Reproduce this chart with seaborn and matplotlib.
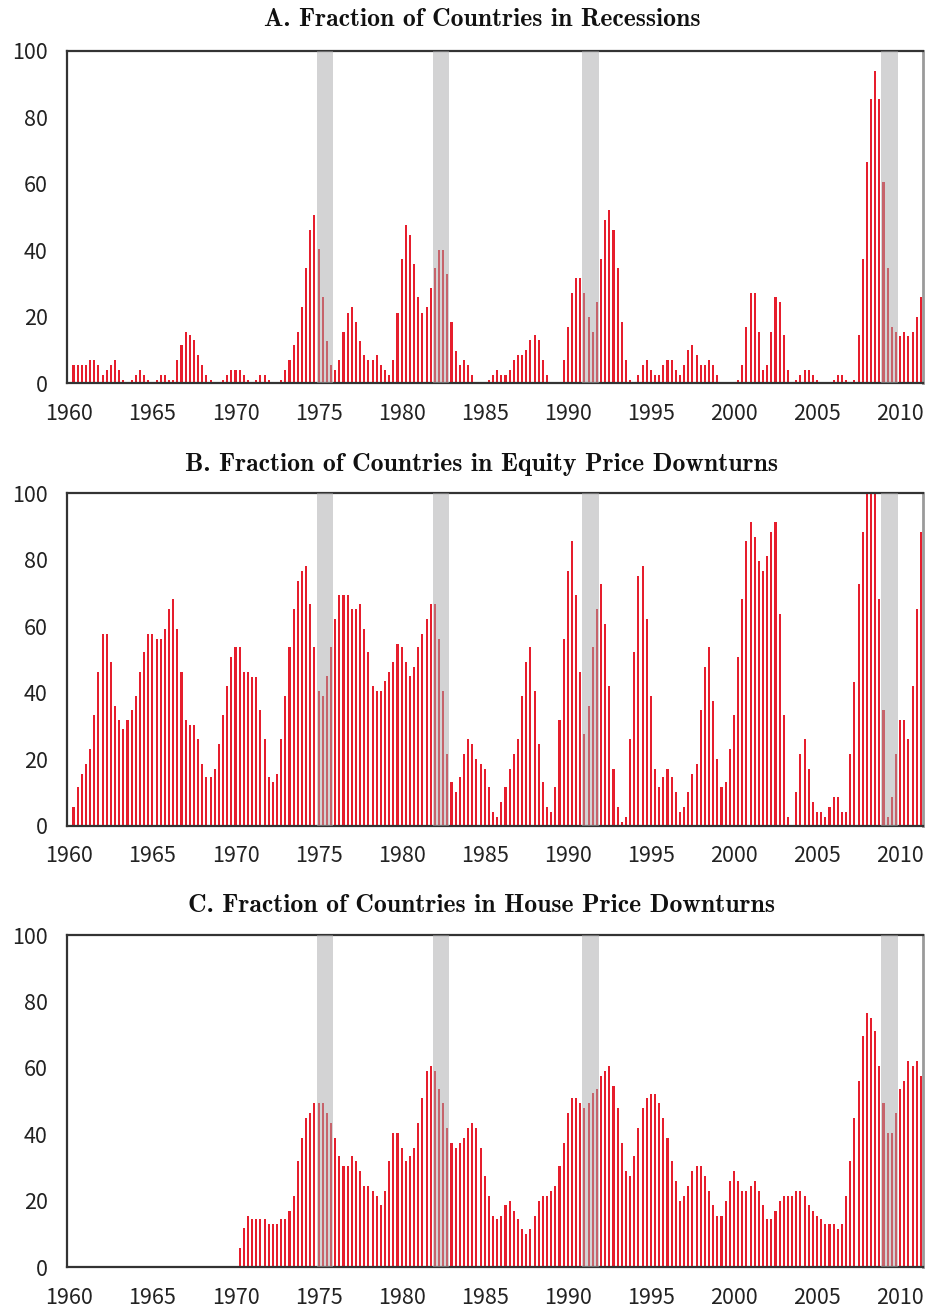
import matplotlib
matplotlib.use("Agg")
import matplotlib.pyplot as plt
import numpy as np
import pandas as pd
import seaborn as sns

# Quarterly shares of countries (%), 1960Q2 - 2011Q2; 1960Q1 is an empty slot on the axis
recessions = [
    5.5, 5.5, 5.5, 5.5, 7, 7, 5.5, 2.5, 4, 5.5,
    7, 4, 1, 0, 1, 2.5, 4, 2.5, 1, 0,
    1, 2.5, 2.5, 1, 1, 7, 11.5, 15.3, 14.5, 13,
    8.5, 5.5, 2.5, 1, 0, 0, 1, 2.5, 4, 4,
    4, 2.5, 1, 0, 1, 2.5, 2.5, 1, 0, 0,
    1, 4, 7, 11.5, 15.3, 22.8, 34.6, 46, 50.5, 40.3,
    25.8, 12.8, 5.5, 4, 7, 15.3, 21.2, 22.8, 18.3, 12.8,
    8.5, 7, 7, 8.5, 5.5, 4, 2.5, 7, 21.2, 37.3,
    47.6, 44.6, 35.8, 25.8, 21.2, 22.8, 28.8, 34.6, 40, 40,
    33, 18.3, 9.8, 5.5, 7, 5.5, 2.5, 0, 0, 0,
    1, 2.5, 4, 2.5, 2.5, 4, 7, 8.5, 8.5, 10,
    13, 14.5, 13, 7, 2.5, 0, 0, 0, 7, 17,
    27.3, 31.8, 31.8, 27.3, 20, 15.5, 24.5, 37.3, 49, 52,
    46, 34.6, 18.3, 7, 1, 0, 2.5, 5.5, 7, 4,
    2.5, 2.5, 5.5, 7, 7, 4, 2.5, 5.5, 10, 11.5,
    8.5, 5.5, 5.5, 7, 5.5, 2.5, 0, 0, 0, 0,
    1, 5.5, 17, 27.3, 27.3, 15.3, 4, 5.5, 15.3, 25.8,
    24.3, 14.5, 4, 0, 1, 2.5, 4, 4, 2.5, 1,
    0, 0, 0, 1, 2.5, 2.5, 1, 0, 1, 14.5,
    37.3, 66.6, 85.5, 93.9, 85.5, 60.6, 34.6, 17, 15.3, 14.3,
    15.3, 14.3, 15.3, 19.8, 25.8,
]

equity_downturns = [
    5.5, 11.6, 15.6, 18.6, 23.1, 33.4, 46.2, 57.8, 57.8, 49.2,
    35.9, 31.9, 29, 31.9, 34.9, 38.9, 46.2, 52.3, 57.8, 57.8,
    56.3, 56.3, 59.3, 65.2, 68.2, 59.3, 46.2, 31.9, 30.4, 30.4,
    26, 18.6, 14.6, 14.6, 17.1, 24.6, 33.4, 41.9, 50.8, 53.8,
    53.8, 46.2, 46.2, 44.7, 44.7, 34.9, 26, 14.6, 13.1, 15.6,
    26, 38.9, 53.8, 65.2, 73.6, 76.6, 78.1, 66.7, 53.8, 40.4,
    39.1, 44.9, 53.8, 62.2, 69.5, 69.5, 69.5, 65.2, 65.2, 66.7,
    59.3, 52.3, 41.9, 40.4, 40.4, 43.4, 46.2, 49.2, 54.8, 53.8,
    49.2, 44.9, 47.7, 53.8, 57.8, 62.2, 66.7, 66.7, 56.3, 40.4,
    21.6, 13.1, 10, 14.6, 21.6, 26, 24.6, 20.1, 18.6, 17.1,
    11.6, 4, 2.5, 7, 11.6, 17.1, 21.6, 26, 38.9, 49.2,
    53.8, 40.4, 24.6, 13.1, 5.5, 4, 11.6, 31.9, 56.3, 76.6,
    85.6, 69.5, 46.2, 27.6, 36.1, 53.8, 65.2, 72.6, 60.8, 41.9,
    17.1, 5.5, 1.2, 2.5, 26, 52.3, 75.1, 78.1, 62.2, 38.9,
    17.1, 11.6, 14.6, 17.1, 14.6, 10, 4, 5.5, 10, 15.6,
    18.6, 34.9, 47.7, 53.8, 37.4, 20.1, 11.6, 13.1, 23.1, 33.4,
    50.8, 68.2, 85.6, 91.5, 86.9, 79.6, 76.6, 81.1, 88.4, 91.5,
    63.7, 33.4, 2.5, 0, 10, 21.6, 26, 17.1, 7, 4,
    4, 2.5, 5.5, 8.5, 8.5, 4, 4, 21.6, 43.2, 72.6,
    88.4, 100, 100, 100, 68.2, 34.9, 2.5, 8.5, 21.6, 31.9,
    31.9, 26, 41.9, 65.2, 88.4,
]

house_downturns = [0] * 40 + [
    5.7, 11.7, 15.5, 14.5, 14.5, 14.5, 14.5, 13, 13, 13,
    14.5, 14.5, 17, 21.6, 32, 38.8, 44.8, 46.3, 49.3, 49.3,
    49.3, 46.3, 43.3, 38.8, 33.5, 30.5, 30.5, 33.5, 32, 29,
    24.6, 24.6, 23.1, 21.6, 18.6, 23.1, 32, 40.3, 40.3, 35.8,
    32, 33.5, 35.8, 43.3, 50.9, 59.2, 60.7, 59.2, 53.7, 49.3,
    41.8, 37.3, 35.8, 37.3, 38.8, 41.8, 43.3, 41.8, 35.8, 27.5,
    21.6, 15.5, 14.5, 15.5, 18.6, 20.1, 17, 14.5, 11.5, 10,
    11.5, 15.5, 20.1, 21.6, 21.6, 23.1, 24.6, 30.5, 37.3, 46.3,
    50.9, 50.9, 49.3, 47.8, 49.3, 52.4, 53.7, 57.7, 59.2, 60.7,
    54.7, 47.8, 37.3, 29, 27.5, 33.5, 41.8, 47.8, 50.9, 52.2,
    52.2, 49.3, 44.8, 38.8, 32, 26, 20.1, 21.6, 24.6, 29,
    30.5, 30.5, 27.5, 23.1, 18.6, 15.5, 15.5, 20.1, 26, 29,
    26, 23.1, 23.1, 24.6, 26, 23.1, 18.6, 14.5, 14.5, 17,
    20.1, 21.6, 21.6, 21.6, 23.1, 23.1, 21.6, 18.6, 17, 15.5,
    14.5, 13, 13, 13, 11.5, 13, 21.6, 32, 44.8, 56.2,
    69.6, 76.4, 74.9, 71.1, 60.7, 49.3, 40.3, 40.3, 46.3, 53.7,
    56.2, 62.1, 60.7, 62.1, 57.7,
]

titles = [
    "A. Fraction of Countries in Recessions",
    "B. Fraction of Countries in Equity Price Downturns",
    "C. Fraction of Countries in House Price Downturns",
]
global_recession_years = [1975, 1982, 1991, 2009]
year_labels = list(range(1960, 2011, 5))

quarters = [f"{y}Q{q}" for y in range(1960, 2012) for q in range(1, 5)][:206]

RED = "#E61E2D"
SHADE = "#a8a8aa"
TICK_FONT = ["Noto Sans CJK KR", "DejaVu Sans"]

sns.set_style("white")
plt.rcParams["font.family"] = TICK_FONT

fig = plt.figure(figsize=(9.28, 13.14), dpi=100)

W, H = 928, 1314
panels = [(50.7, 383.3), (493.3, 825.7), (935.0, 1267.3)]
title_y = [20, 464, 905]
left, right = 67.3, 923.0

for k, (vals, title) in enumerate(zip([recessions, equity_downturns, house_downturns], titles)):
    top, bot = panels[k]
    ax = fig.add_axes([left / W, 1 - bot / H, (right - left) / W, (bot - top) / H])
    df = pd.DataFrame({"quarter": quarters, "value": [0.0] + list(vals)})
    sns.barplot(data=df, x="quarter", y="value", order=quarters, color=RED,
                saturation=1, width=0.5, linewidth=0, errorbar=None, ax=ax)

    for yr in global_recession_years:
        j = (yr - 1960) * 4
        ax.axvspan(j - 0.5, j + 3.5, color=SHADE, alpha=0.5, lw=0, zorder=3)

    ax.set_xlim(-0.5, len(quarters) - 0.5)
    ax.set_ylim(0, 100)
    ax.set_yticks(range(0, 101, 20))
    ax.set_xticks([(y - 1960) * 4 for y in year_labels])
    ax.set_xticklabels([str(y) for y in year_labels])
    ax.tick_params(length=0, labelsize=15.5, colors="#222222")
    ax.tick_params(axis="y", pad=14)
    ax.tick_params(axis="x", pad=14)
    ax.set_xlabel("")
    ax.set_ylabel("")

    for side in ["top", "left", "bottom"]:
        ax.spines[side].set_color("#333333")
        ax.spines[side].set_linewidth(1.6)
    ax.spines["right"].set_color("#9a9a9a")
    ax.spines["right"].set_linewidth(2.0)

    fig.text(482 / W, 1 - title_y[k] / H, title, ha="center", va="center",
             fontsize=18.5, family="cmb10", color="#111111")

fig.savefig("out.png", dpi=100)
